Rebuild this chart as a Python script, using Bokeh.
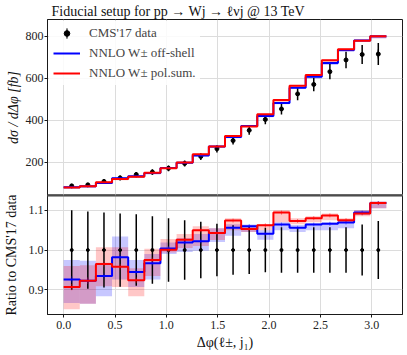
import numpy as np
from bokeh.plotting import figure
from bokeh.layouts import column
from bokeh.models import (Range1d, FixedTicker, PrintfTickFormatter, Legend,
                          LegendItem, Span)
from bokeh.embed import file_html
from bokeh.resources import INLINE

# ---------------- data ----------------
n_bins = 20
phi_max = np.pi
x_ticks = [0.0, 0.5, 1.0, 1.5, 2.0, 2.5, 3.0]
top_ticks = [200, 400, 600, 800]
ratio_ticks = [0.9, 1.0, 1.1]

# CMS'17 data [fb] and relative errors
data_xsec = [87, 92, 108, 125, 141, 153, 171, 194, 227, 264,
             303, 352, 404, 454, 526, 571, 632, 688, 714, 716]
data_rel_err = [0.100, 0.097, 0.094, 0.092, 0.090, 0.085, 0.080, 0.075, 0.071, 0.066,
                0.062, 0.060, 0.056, 0.057, 0.057, 0.057, 0.057, 0.057, 0.064, 0.073]

# NNLO W off-shell (ratio to data) with scale band
ratio_offshell = [0.926, 0.923, 0.935, 0.982, 0.945, 0.967, 1.004, 1.019, 1.022, 1.043,
                  1.056, 1.060, 1.041, 1.064, 1.056, 1.064, 1.066, 1.069, 1.094, 1.118]
offshell_lo = [0.867, 0.865, 0.884, 0.926, 0.907, 0.926, 0.990, 0.995, 0.998, 1.020,
               1.036, 1.045, 1.026, 1.050, 1.045, 1.050, 1.050, 1.055, 1.088, 1.105]
offshell_hi = [0.975, 0.973, 0.968, 1.034, 0.975, 0.990, 1.019, 1.030, 1.040, 1.055,
               1.065, 1.064, 1.050, 1.070, 1.063, 1.068, 1.070, 1.075, 1.100, 1.122]
offshell_mc = [0.008, 0.008, 0.007, 0.007, 0.007, 0.006, 0.006, 0.006, 0.006, 0.005,
               0.005, 0.005, 0.005, 0.005, 0.005, 0.005, 0.005, 0.005, 0.005, 0.005]

# NNLO W pol.sum. (ratio to data) with scale band
ratio_polsum = [0.907, 0.923, 0.965, 0.958, 0.924, 0.975, 1.001, 1.026, 1.050, 1.043,
                1.074, 1.053, 1.062, 1.094, 1.073, 1.080, 1.087, 1.075, 1.092, 1.118]
polsum_lo = [0.851, 0.865, 0.909, 0.907, 0.884, 0.935, 0.994, 1.005, 1.010, 1.025,
             1.050, 1.045, 1.050, 1.070, 1.065, 1.070, 1.075, 1.068, 1.085, 1.105]
polsum_hi = [0.960, 0.962, 1.007, 1.007, 0.954, 1.003, 1.028, 1.040, 1.060, 1.055,
             1.080, 1.062, 1.065, 1.100, 1.080, 1.085, 1.092, 1.080, 1.100, 1.122]
polsum_mc = [0.008, 0.008, 0.007, 0.007, 0.007, 0.006, 0.006, 0.006, 0.006, 0.005,
             0.005, 0.005, 0.005, 0.005, 0.005, 0.005, 0.005, 0.005, 0.005, 0.005]

# ---------------- derived ----------------
edges = np.linspace(0.0, phi_max, n_bins + 1)
left, right = edges[:-1], edges[1:]
centers = 0.5 * (left + right)
D = np.array(data_xsec, float)
derr = D * np.array(data_rel_err)

FONT = "Liberation Serif"
BLUE = "#0000ff"
RED = "#ff0000"
GRID = "#dcdcdc"
margin = 0.05 * phi_max
x_range = Range1d(-margin, phi_max + margin)

W = 407
TOP_H = 195
BOT_H = 160


def style(p):
    p.outline_line_color = "#1a1a1a"
    p.outline_line_width = 1
    p.background_fill_color = "white"
    p.border_fill_color = "white"
    for ax in p.axis:
        ax.axis_line_color = "#1a1a1a"
        ax.major_tick_line_color = "#1a1a1a"
        ax.major_tick_out = 3
        ax.major_tick_in = 0
        ax.minor_tick_line_color = None
        ax.major_label_text_font = FONT
        ax.major_label_text_font_size = "12px"
        ax.major_label_text_color = "#222222"
        ax.major_label_text_line_height = 1.0
        ax.major_label_standoff = 1
        ax.axis_label_text_font = FONT
        ax.axis_label_text_color = "#111111"
        ax.axis_label_text_font_style = "normal"
        ax.axis_label_text_line_height = 1.0
    for g in p.grid:
        g.grid_line_color = GRID
        g.grid_line_width = 1


def step_y(vals):
    v = list(vals)
    return v + [v[-1]]


# ---------------- top panel ----------------
pt = figure(width=W, height=TOP_H, x_range=x_range, y_range=Range1d(41, 881),
            title="Fiducial setup for pp → Wj → ℓνj @ 13 TeV",
            x_axis_location=None, output_backend="svg", toolbar_location=None,
            min_border_left=46, min_border_right=5, min_border_top=0,
            min_border_bottom=0)
pt.title.text_font = FONT
pt.title.text_font_size = "14px"
pt.title.text_font_style = "normal"
pt.title.text_color = "#111111"
pt.title.text_line_height = 1.0
pt.title.align = "left"
pt.title.offset = 4
pt.title.standoff = 2
pt.yaxis.ticker = FixedTicker(ticks=top_ticks)
pt.yaxis.formatter = PrintfTickFormatter(format="%d")
pt.xgrid.ticker = FixedTicker(ticks=x_ticks)
pt.yaxis.axis_label = "dσ / dΔφ [fb]"
style(pt)
pt.yaxis.axis_label_text_font_size = "14px"
pt.yaxis.axis_label_text_font_style = "italic"
pt.yaxis.axis_label_standoff = 2

pt.quad(left=left, right=right, bottom=D * np.array(offshell_lo), top=D * np.array(offshell_hi),
        fill_color=BLUE, fill_alpha=0.22, line_color=None)
pt.quad(left=left, right=right, bottom=D * np.array(polsum_lo), top=D * np.array(polsum_hi),
        fill_color=RED, fill_alpha=0.22, line_color=None)
pt.segment(x0=centers, y0=D - derr, x1=centers, y1=D + derr, line_color="black", line_width=1.5)
r_pts = pt.scatter(centers, D, size=4, color="black")
# slim vertical ellipse on the last data point: gives the legend an error-bar handle
r_bar = pt.ellipse(x=centers[-1:], y=D[-1:], width=1.5, height=11,
                   width_units="screen", height_units="screen",
                   fill_color="black", line_color=None)
r_blue = pt.step(x=edges, y=step_y(D * np.array(ratio_offshell)), mode="after",
                 line_color=BLUE, line_width=2)
r_red = pt.step(x=edges, y=step_y(D * np.array(ratio_polsum)), mode="after",
                line_color=RED, line_width=2)

legend = Legend(items=[LegendItem(label="CMS'17 data", renderers=[r_bar, r_pts], index=0),
                       LegendItem(label="NNLO W± off-shell", renderers=[r_blue]),
                       LegendItem(label="NNLO W± pol.sum.", renderers=[r_red])],
                location="top_left", margin=2, padding=4, spacing=4,
                glyph_width=27, glyph_height=14, label_standoff=9,
                label_text_font=FONT, label_text_font_size="13px",
                background_fill_color="white", background_fill_alpha=0.85,
                border_line_alpha=0)
pt.add_layout(legend)
pt.add_layout(Span(location=41, dimension="width", line_color="#7f7f7f", line_width=2.5))

# ---------------- ratio panel ----------------
pb = figure(width=W, height=BOT_H, x_range=x_range, y_range=Range1d(0.838, 1.137),
            output_backend="svg", toolbar_location=None,
            min_border_left=46, min_border_right=5, min_border_top=0,
            min_border_bottom=41)
pb.xaxis.ticker = FixedTicker(ticks=x_ticks)
pb.xaxis.formatter = PrintfTickFormatter(format="%.1f")
pb.yaxis.ticker = FixedTicker(ticks=ratio_ticks)
pb.yaxis.formatter = PrintfTickFormatter(format="%.1f")
pb.xaxis.axis_label = "Δφ(ℓ±, j₁)"
pb.yaxis.axis_label = "Ratio to CMS'17 data"
style(pb)
pb.xaxis.axis_label_text_font_size = "14px"
pb.yaxis.axis_label_text_font_size = "14px"
pb.xaxis.major_label_standoff = 3
pb.xaxis.axis_label_standoff = 3
pb.yaxis.axis_label_standoff = 7

pb.quad(left=left, right=right, bottom=offshell_lo, top=offshell_hi,
        fill_color=BLUE, fill_alpha=0.22, line_color=None)
pb.quad(left=left, right=right, bottom=polsum_lo, top=polsum_hi,
        fill_color=RED, fill_alpha=0.22, line_color=None)
rel = np.array(data_rel_err)
ones = np.ones(n_bins)
pb.segment(x0=centers, y0=ones - rel, x1=centers, y1=ones + rel, line_color="black", line_width=1.5)
pb.scatter(centers, ones, size=3, color="black")
ro, rp = np.array(ratio_offshell), np.array(ratio_polsum)
pb.segment(x0=centers, y0=ro - np.array(offshell_mc), x1=centers, y1=ro + np.array(offshell_mc),
           line_color=BLUE, line_width=1, line_alpha=0.5)
pb.segment(x0=centers, y0=rp - np.array(polsum_mc), x1=centers, y1=rp + np.array(polsum_mc),
           line_color=RED, line_width=1, line_alpha=0.5)
pb.step(x=edges, y=step_y(ratio_offshell), mode="after", line_color=BLUE, line_width=2)
pb.step(x=edges, y=step_y(ratio_polsum), mode="after", line_color=RED, line_width=2)
pb.add_layout(Span(location=1.137, dimension="width", line_color="#7f7f7f", line_width=2.5))

layout = column(pt, pb)
open("out.html", "w").write(file_html(layout, INLINE))
